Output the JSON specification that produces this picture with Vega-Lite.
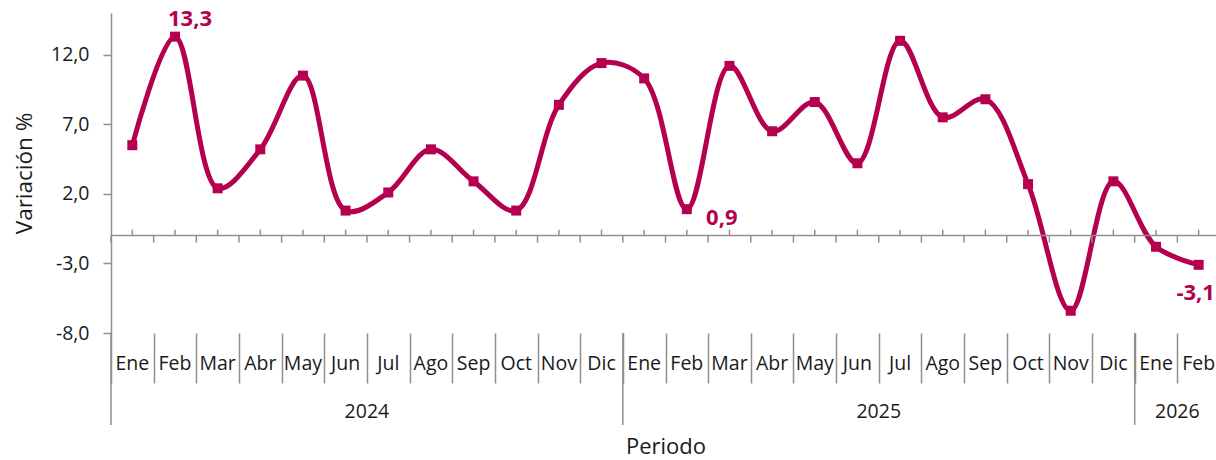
{
  "$schema": "https://vega.github.io/schema/vega-lite/v6.json",
  "width": 1109,
  "height": 320,
  "autosize": {"type": "none"},
  "padding": {"left": 111, "top": 13, "right": 0, "bottom": 127},
  "background": "white",
  "config": {
    "view": {"stroke": null},
    "font": "Open Sans",
    "axis": {"labelColor": "#1a1a1a", "titleColor": "#1a1a1a", "domainColor": "#8f8f8f", "tickColor": "#8f8f8f", "grid": false}
  },
  "data": {"values": [
    {"key": "2024-Ene", "valor": 5.5},
    {"key": "2024-Feb", "valor": 13.3},
    {"key": "2024-Mar", "valor": 2.4},
    {"key": "2024-Abr", "valor": 5.2},
    {"key": "2024-May", "valor": 10.5},
    {"key": "2024-Jun", "valor": 0.8},
    {"key": "2024-Jul", "valor": 2.1},
    {"key": "2024-Ago", "valor": 5.2},
    {"key": "2024-Sep", "valor": 2.9},
    {"key": "2024-Oct", "valor": 0.8},
    {"key": "2024-Nov", "valor": 8.4},
    {"key": "2024-Dic", "valor": 11.4},
    {"key": "2025-Ene", "valor": 10.3},
    {"key": "2025-Feb", "valor": 0.9},
    {"key": "2025-Mar", "valor": 11.2},
    {"key": "2025-Abr", "valor": 6.5},
    {"key": "2025-May", "valor": 8.6},
    {"key": "2025-Jun", "valor": 4.2},
    {"key": "2025-Jul", "valor": 13.0},
    {"key": "2025-Ago", "valor": 7.5},
    {"key": "2025-Sep", "valor": 8.8},
    {"key": "2025-Oct", "valor": 2.7},
    {"key": "2025-Nov", "valor": -6.4},
    {"key": "2025-Dic", "valor": 2.9},
    {"key": "2026-Ene", "valor": -1.8},
    {"key": "2026-Feb", "valor": -3.1}
  ]},
  "layer": [
    {
      "mark": {"type": "line", "interpolate": "catmull-rom", "strokeWidth": 5, "color": "#B4004E"},
      "encoding": {
        "x": {"field": "key", "type": "nominal", "sort": null,
              "axis": {"orient": "bottom", "domain": false, "labels": false, "tickBand": "extent", "tickSize": 50, "tickWidth": 1.5, "labelAngle": 0,
                       "title": "Periodo", "titleFontSize": 22, "titleFontWeight": "normal", "titlePadding": 53}},
        "y": {"field": "valor", "type": "quantitative",
              "scale": {"domain": [-8, 15], "nice": false, "zero": false},
              "axis": {"values": [-8, -3, 2, 7, 12], "labelExpr": "replace(replace(format(datum.value, '.1f'), '.', ','), '\u2212', '-')",
                       "labelFontSize": 19.5, "labelPadding": 14, "tickSize": 8, "tickWidth": 1.5, "domainWidth": 1.5,
                       "title": "Variación %", "titleFontSize": 22.5, "titleFontWeight": "normal", "titlePadding": 14}}
      }
    },
    {
      "data": {"values": [{}]},
      "mark": {"type": "rule", "color": "#8f8f8f", "strokeWidth": 1.5},
      "encoding": {"y": {"datum": -1, "type": "quantitative"}}
    },
    {
      "mark": {"type": "rule", "color": "#8f8f8f", "strokeWidth": 1.5},
      "encoding": {
        "x": {"field": "key", "type": "nominal", "sort": null},
        "y": {"datum": -1, "type": "quantitative"},
        "y2": {"datum": -0.57}
      }
    },
    {
      "mark": {"type": "rule", "color": "#8f8f8f", "strokeWidth": 1.5, "xOffset": -21.33},
      "encoding": {
        "x": {"field": "key", "type": "nominal", "sort": null},
        "y": {"datum": -1, "type": "quantitative"},
        "y2": {"datum": -1.5}
      }
    },
    {
      "transform": [{"calculate": "slice(datum.key, 5)", "as": "mes"}],
      "mark": {"type": "text", "fontSize": 19.5, "color": "#1a1a1a", "baseline": "middle", "clip": false},
      "encoding": {
        "x": {"field": "key", "type": "nominal", "sort": null},
        "y": {"datum": -10.23, "type": "quantitative"},
        "text": {"field": "mes"}
      }
    },
    {
      "transform": [{"filter": "indexof(['2024-Ene', '2025-Ene', '2026-Ene'], datum.key) >= 0"}],
      "mark": {"type": "rule", "color": "#8f8f8f", "strokeWidth": 1.5, "xOffset": -21.33, "clip": false},
      "encoding": {
        "x": {"field": "key", "type": "nominal", "sort": null},
        "y": {"datum": -8, "type": "quantitative"},
        "y2": {"datum": -14.61}
      }
    },
    {
      "transform": [{"filter": "indexof(['2024-Jul', '2025-Jul', '2026-Feb'], datum.key) >= 0"}, {"calculate": "slice(datum.key, 0, 4)", "as": "anio"}],
      "mark": {"type": "text", "fontSize": 19.5, "color": "#1a1a1a", "xOffset": -21.33, "baseline": "middle", "clip": false},
      "encoding": {
        "x": {"field": "key", "type": "nominal", "sort": null},
        "y": {"datum": -13.68, "type": "quantitative"},
        "text": {"field": "anio"}
      }
    },
    {
      "mark": {"type": "square", "size": 100, "filled": true, "opacity": 1, "color": "#B4004E"},
      "encoding": {
        "x": {"field": "key", "type": "nominal", "sort": null},
        "y": {"field": "valor", "type": "quantitative"}
      }
    },
    {
      "transform": [{"filter": "datum.key === '2024-Feb'"}, {"calculate": "replace(replace(format(datum.valor, '.1f'), '.', ','), '\u2212', '-')", "as": "etiqueta"}],
      "mark": {"type": "text", "dx": 15, "dy": -18, "fontSize": 22, "fontWeight": "bold", "color": "#B4004E"},
      "encoding": {
        "x": {"field": "key", "type": "nominal", "sort": null},
        "y": {"field": "valor", "type": "quantitative"},
        "text": {"field": "etiqueta"}
      }
    },
    {
      "transform": [{"filter": "datum.key === '2025-Feb'"}, {"calculate": "replace(replace(format(datum.valor, '.1f'), '.', ','), '\u2212', '-')", "as": "etiqueta"}],
      "mark": {"type": "text", "dx": 35, "dy": 9, "fontSize": 22, "fontWeight": "bold", "color": "#B4004E"},
      "encoding": {
        "x": {"field": "key", "type": "nominal", "sort": null},
        "y": {"field": "valor", "type": "quantitative"},
        "text": {"field": "etiqueta"}
      }
    },
    {
      "transform": [{"filter": "datum.key === '2026-Feb'"}, {"calculate": "replace(replace(format(datum.valor, '.1f'), '.', ','), '\u2212', '-')", "as": "etiqueta"}],
      "mark": {"type": "text", "dx": -3, "dy": 28, "fontSize": 22, "fontWeight": "bold", "color": "#B4004E"},
      "encoding": {
        "x": {"field": "key", "type": "nominal", "sort": null},
        "y": {"field": "valor", "type": "quantitative"},
        "text": {"field": "etiqueta"}
      }
    }
  ]
}
